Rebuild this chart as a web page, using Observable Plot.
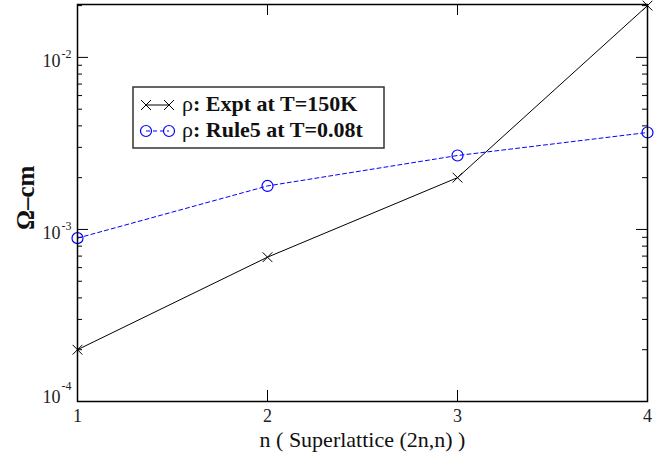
<!DOCTYPE html>
<html>
<head>
<meta charset="utf-8">
<script src="https://cdn.jsdelivr.net/npm/d3@7"></script>
<script src="https://cdn.jsdelivr.net/npm/@observablehq/plot@0.6"></script>
<style>
  html, body { margin: 0; padding: 0; background: white; }
  #chart { width: 666px; height: 452px; }
</style>
</head>
<body>
<div id="chart"></div>
<script>
// ---- data ----
const ns = [1, 2, 3, 4];
const expt = [2.0e-4, 6.9e-4, 2.0e-3, 2.0e-2];
const rule5 = [8.9e-4, 1.79e-3, 2.69e-3, 3.66e-3];
const yTickValues = [1e-4, 1e-3, 1e-2];
const yTickExponents = ["-4", "-3", "-2"];
const xTickValues = [1, 2, 3, 4];
const xInnerTicks = [2, 3];
const xLabel = "n ( Superlattice (2n,n) )";
const yLabel = "Ω–cm";
const legendNames = ["Expt at T=150K", "Rule5 at T=0.08t"];

const yMax = 0.0203;
const exptData = ns.map((n, i) => ({n, v: expt[i]}));
const ruleData = ns.map((n, i) => ({n, v: rule5[i]}));
const minorTicks = [];
yTickValues.forEach(d => { for (let k = 2; k <= 9; k++) if (k * d <= yMax) minorTicks.push(k * d); });
const yLabels = yTickValues.map((v, i) => ({v, e: yTickExponents[i]}));
const yLabelsUpper = yLabels.slice(1);
const yLabelsBottom = yLabels.slice(0, 1);

const W = 666, H = 452, mL = 77, mR = 19, mT = 4, mB = 51;
const fw = W - mL - mR, fh = H - mT - mB;
const serif = "'Liberation Serif', 'Times New Roman', serif";
const tickText = (data, dyBase, dyExp) => [
  Plot.text(data, {y: "v", text: () => "10", frameAnchor: "left", textAnchor: "end",
    lineAnchor: "middle", dx: -17, dy: dyBase, fontSize: 18, fill: "#222"}),
  Plot.text(data, {y: "v", text: "e", frameAnchor: "left", textAnchor: "start",
    lineAnchor: "middle", dx: -16, dy: dyExp, fontSize: 12, fill: "#222"})
];

const chart = Plot.plot({
  width: W, height: H,
  marginLeft: mL, marginRight: mR, marginTop: mT, marginBottom: mB,
  x: {domain: [1, 4], axis: null},
  y: {type: "log", domain: [1e-4, yMax], axis: null},
  style: {fontFamily: serif, background: "white", color: "black", fontSize: "18px"},
  marks: [
    // inward ticks
    Plot.ruleY(yTickValues, {y: d => d, insetRight: fw - 11, stroke: "black"}),
    Plot.ruleY(yTickValues, {y: d => d, insetLeft: fw - 11, stroke: "black"}),
    Plot.ruleY(minorTicks, {y: d => d, insetRight: fw - 5, stroke: "black"}),
    Plot.ruleY(minorTicks, {y: d => d, insetLeft: fw - 5, stroke: "black"}),
    Plot.ruleX(xInnerTicks, {x: d => d, insetTop: fh - 11, stroke: "black"}),
    Plot.ruleX(xInnerTicks, {x: d => d, insetBottom: fh - 11, stroke: "black"}),
    // series
    Plot.line(exptData, {x: "n", y: "v", stroke: "black", strokeWidth: 1}),
    Plot.dot(exptData, {x: "n", y: "v", symbol: "times", r: 4.5, stroke: "black", strokeWidth: 1}),
    Plot.line(ruleData, {x: "n", y: "v", stroke: "#0000ff", strokeWidth: 1, strokeDasharray: "4,3"}),
    Plot.dot(ruleData, {x: "n", y: "v", symbol: "circle", r: 5.5, stroke: "#0000ff", fill: "none", strokeWidth: 1.2}),
    Plot.frame({stroke: "black", strokeWidth: 1.5}),
    // y tick labels: 10 with superscript exponent
    ...tickText(yLabelsUpper, 4, -3),
    ...tickText(yLabelsBottom, -4, -15),
    // x tick labels
    Plot.text(xTickValues, {x: d => d, text: d => String(d), frameAnchor: "bottom", lineAnchor: "middle",
      dy: 15, fontSize: 18, fill: "#222"}),
    // axis labels
    Plot.text([xLabel], {text: d => d, frameAnchor: "bottom", lineAnchor: "bottom", dy: 45, fontSize: 22, fill: "#111"}),
    Plot.text([yLabel], {text: d => d, frameAnchor: "left", rotate: -90, lineAnchor: "middle",
      dx: -52, dy: 27, fontSize: 25, fontWeight: "bold", fill: "#111"})
  ]
});

// legend
const svg = d3.select(chart);
const g = svg.append("g").attr("font-family", serif).attr("text-anchor", "start");
g.append("rect").attr("x", 133).attr("y", 87).attr("width", 251).attr("height", 61)
  .attr("fill", "white").attr("stroke", "#333").attr("stroke-width", 1.5);
const rows = [
  {y: 105, color: "black", dash: null, sym: "times", name: legendNames[0]},
  {y: 131, color: "#0000ff", dash: "4,3", sym: "circle", name: legendNames[1]}
];
rows.forEach(r => {
  g.append("line").attr("x1", 146).attr("x2", 169).attr("y1", r.y).attr("y2", r.y)
    .attr("stroke", r.color).attr("stroke-dasharray", r.dash);
  [146, 169].forEach(cx => {
    if (r.sym === "times") {
      g.append("path").attr("d", `M${cx-5},${r.y-5}L${cx+5},${r.y+5}M${cx-5},${r.y+5}L${cx+5},${r.y-5}`)
        .attr("stroke", r.color).attr("fill", "none");
    } else {
      g.append("circle").attr("cx", cx).attr("cy", r.y).attr("r", 5.5)
        .attr("stroke", r.color).attr("fill", "none").attr("stroke-width", 1.2);
    }
  });
  const t = g.append("text").attr("x", 182).attr("y", r.y + 6).attr("font-size", 22)
    .attr("text-anchor", "start").attr("fill", "#111");
  t.append("tspan").text("ρ");
  t.append("tspan").attr("font-weight", "bold").text(": " + r.name);
});

document.getElementById("chart").appendChild(chart);
</script>
</body>
</html>
